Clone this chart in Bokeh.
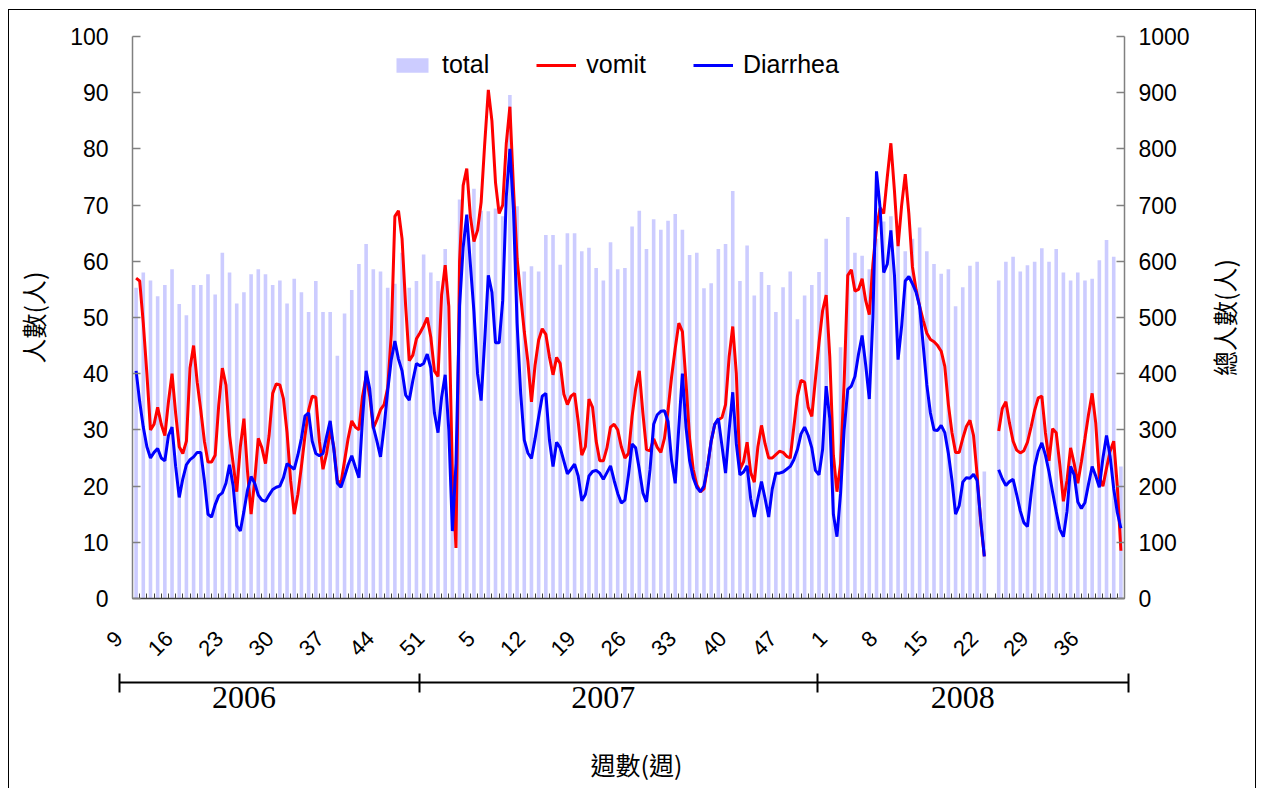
import math
from bokeh.plotting import figure
from bokeh.models import Range1d, LinearAxis, FixedTicker, Legend
from bokeh.embed import file_html
from bokeh.resources import INLINE

nan = float("nan")

# ---------------- data ----------------
weeks_2006 = list(range(9, 54))
weeks_2007 = list(range(1, 54))
weeks_2008 = list(range(1, 41))
week_labels = [str(w) for w in weeks_2006 + weeks_2007 + weeks_2008]
years = ["2006", "2007", "2008"]

# weekly total (right axis)
total = [553, 580, 566, 538, 558, 586, 524, 504, 558, 558, 577, 541, 615, 580, 525, 545, 577, 586, 577, 558, 566, 525, 569,
         545, 510, 565, 510, 510, 432, 507, 549, 595, 631, 586, 582, 553, 560, 615, 553, 565, 612, 580, 565, 622, 220, 710,
         660, 729, 690, 689, 694, 680, 896, 698, 582, 591, 582, 647, 647, 594, 650, 650, 618, 624, 588, 566, 634, 586, 588,
         662, 690, 622, 675, 656, 672, 684, 656, 611, 615, 552, 561, 622, 631, 725, 565, 628, 539, 581, 558, 510, 554, 582,
         497, 539, 558, 581, 640, 250, 447, 679, 615, 610, 586, 640, 671, 680, 660, 618, 640, 660, 618, 595, 578, 586, 520,
         554, 592, 599, 226, nan, 566, 599, 608, 582, 593, 599, 623, 599, 622, 580, 566, 580, 566, 569, 602, 638, 608, 235]

# vomit, sampled every half week (left axis)
vomit = [57, 56.5, 49, 40, 30, 31, 34, 31, 29, 35,
         40, 33, 27, 25.8, 28, 41, 45, 38.5, 33.5, 28,
         24.3, 24.3, 25.5, 34.5, 41, 38, 29, 24, 19, 27,
         32, 22.6, 15, 21, 28.5, 26.8, 24, 29, 36.5, 38.2,
         38, 35.5, 29.5, 21, 15,
         18.5, 23.5, 29, 33.5, 36, 35.8, 28, 23, 25.8, 30,
         27, 21, 20.5, 24.5, 28.5, 31.6, 30.5, 30, 36, 39.5,
         36, 30.3, 31.8, 33.6, 34.5, 37.5, 47, 68, 69, 64,
         52, 42.3, 43.3, 46.2, 47.3, 48.5, 50, 46.5, 40.5, 39.5,
         54, 59.3, 52, 22, 9, 60,
         73.5, 76.5, 68, 63.5, 65.5, 70.5, 81, 90.5, 85, 74,
         68.5, 70, 81, 87.5, 73, 60.5, 53.8, 47.5, 42.2, 35,
         41.5, 46, 48, 47, 43, 39.8, 42.9, 41.8, 36.4, 34.5,
         36, 36.5, 31.5, 25.5, 27, 35.5, 34, 28, 24.5, 24.5,
         26.8, 30.5, 31, 30, 27, 25,
         25.8, 32.4, 37.3, 40.5, 33, 26.5, 26.3, 28.4, 26.9, 26,
         28.5, 33.5, 39.5, 44.5, 49, 47.5, 38.5, 28.5, 23, 20.2,
         19, 19.5, 23.5, 28, 31, 31.8, 32.2, 34.5, 43, 48.4,
         40, 23, 24.3, 27.8, 22.4, 20.7, 27, 30.8, 27.5, 25,
         25, 25.6, 26.2, 26, 25.3, 25,
         30.5, 36, 38.8, 38.5, 34, 32.4, 39, 45.5, 51.2, 54,
         43, 25.5, 19, 24, 38.5, 57.5, 58.5, 54.7, 55, 56.9,
         53, 50.5, 59.5, 66, 69.5, 68.5, 75, 81, 72.5, 62.7,
         70, 75.5, 68.5, 59, 55, 52, 49.5, 47.2, 46.1, 45.7,
         45, 44, 41.3, 34.5, 29.5, 26,
         26, 28.5, 30.6, 31.7, 29, 22, 13.5, 7.5, nan, nan,
         nan, 29.8, 33.8, 35, 31.2, 28, 26.4, 25.9, 26.3, 27.8,
         30.5, 33.5, 35.7, 36, 29.5, 24.5, 30.2, 29.5, 23.8, 17.3,
         21, 26.8, 24, 20.5, 24.3, 28.5, 32.8, 36.5, 31.2, 21.5,
         20, 23.2, 26.2, 28, 20, 8.5]

# diarrhea, sampled every half week (left axis)
diarrhea = [40.5, 35, 30.5, 27, 25, 26, 26.7, 25, 24.5, 29,
            30.5, 23.5, 18, 21.3, 23.8, 24.7, 25.2, 26, 26, 21,
            15, 14.5, 16.7, 18.3, 18.8, 20.5, 23.8, 20, 13, 12,
            15.5, 19.3, 21.7, 20.5, 18.4, 17.5, 17.3, 18.4, 19.4, 19.8,
            20, 21.5, 24, 23.5, 23,
            25.5, 28.5, 32.5, 33, 28, 25.8, 25.4, 25.8, 28.8, 31.6,
            26.6, 20.5, 19.8, 21.7, 23.8, 25.4, 23.4, 21.5, 32, 40.5,
            37.3, 30.5, 28, 25.2, 30.5, 37, 42.5, 45.8, 42.6, 40.5,
            36.2, 35.3, 38.8, 41.8, 41.4, 41.8, 43.5, 41, 33, 29.5,
            35.8, 39.8, 30, 12, 24, 52,
            62.5, 68.3, 59.5, 51, 40, 35.2, 46, 57.5, 54.5, 45.5,
            45.5, 53, 71.5, 80, 69, 49, 36.5, 28.2, 25.9, 24.9,
            28.4, 32.3, 36, 36.5, 28.2, 23.5, 27.8, 26.8, 24.5, 22.2,
            23, 23.9, 21.8, 17.4, 18.5, 21.8, 22.6, 22.8, 22.3, 21.2,
            22.4, 23.6, 21, 18.7, 17, 17.5,
            22, 27.5, 26.8, 23, 18.8, 17.2, 23, 31, 32.7, 33.3,
            33.4, 31.5, 24.5, 20.5, 30.5, 40, 30.5, 24.5, 21.5, 19.8,
            19, 20, 23.5, 28, 31, 32, 27.2, 22.3, 30, 36.7,
            27.5, 22, 22.5, 23.6, 17.7, 14.5, 17.8, 20.8, 17.8, 14.5,
            19.5, 22.3, 22.3, 22.5, 23, 23.5,
            24.7, 26.5, 29.3, 30.5, 29, 26.8, 22.8, 22, 26.5, 37.8,
            32, 15, 11, 18.7, 30, 37.2, 37.8, 39.5, 43.5, 46.8,
            41.5, 35.5, 50, 76, 69.5, 58, 59.5, 65.5, 57.5, 42.5,
            48.5, 56.5, 57.3, 56, 54.5, 52, 45, 38, 33, 30,
            29.9, 30.8, 29.5, 25.8, 21, 15,
            16.5, 20.7, 21.5, 21.4, 22.1, 21, 14, 7.5, nan, nan,
            nan, 22.9, 21.3, 20.1, 20.8, 21.2, 18.5, 15.6, 13.5, 12.8,
            18.5, 23.5, 26.2, 27.7, 25.5, 22.5, 18.9, 15.5, 12.3, 11,
            15.5, 23.5, 22, 17.2, 16, 17.1, 20.4, 23.5, 21.8, 19.8,
            25, 29, 25.3, 19.5, 15.3, 12.5]

# ---------------- layout constants (page pixels) ----------------
N = len(total)
W = 1264
TOP_Y = 9                      # top of main figure (= outer frame line)
TOP_H = 664
BOT_H = 788 - TOP_Y - TOP_H
FRAME_L, FRAME_R = 132, W - 1124
FRAME_T, FRAME_H = 36 - TOP_Y, 562
px_per_cat = (W - FRAME_L - FRAME_R) / N
BR_L, BR_R = 119, W - 1128     # bracket extends a little beyond the plot
br_start = -0.5 - (FRAME_L - BR_L) / px_per_cat
br_end = N - 0.5 + (FRAME_R - BR_R) / px_per_cat
year_edges = [br_start + 0.01, 39.4, 94.8, br_end - 0.01]
year_centers = [15, 65, 115]
label_pad = "\u00a0" * 4       # week labels sit a little left/below their week (as drawn)
right_title_anchor = 39.6      # lower end of the right title, in left-axis units
x_title_mid = 69.6             # centre of the x title, in week units

LAT = "Liberation Sans"
CJK = "Noto Sans CJK TC"

VLINES = ("linear-gradient(to right, transparent 8px, black 8px, black 9px, transparent 9px), "
          "linear-gradient(to right, transparent 1255px, black 1255px, black 1256px, transparent 1256px)")

# ---------------- main figure ----------------
p = figure(width=W, height=TOP_H, x_range=Range1d(-0.5, N - 0.5), y_range=Range1d(0, 100),
           output_backend="svg", toolbar_location=None,
           x_axis_location=None, y_axis_location=None,
           min_border_left=FRAME_L, min_border_right=FRAME_R, min_border_top=FRAME_T,
           min_border_bottom=TOP_H - FRAME_T - FRAME_H,
           margin=(TOP_Y, 0, 0, 0),
           styles={"background-image": "linear-gradient(to bottom, black 0px, black 1px, transparent 1px), " + VLINES,
                   "background-size": "1248px 100%, 100% 100%, 100% 100%",
                   "background-position": "8px 0px, 0px 0px, 0px 0px",
                   "background-repeat": "no-repeat"})
p.outline_line_color = None
p.grid.visible = False
p.background_fill_color = "white"
p.border_fill_color = None
p.extra_y_ranges = {"tot": Range1d(0, 1000)}

idx = list(range(N))
half = [k * 0.5 for k in range(len(vomit))]

r_bar = p.vbar(x=idx, top=total, width=0.5, y_range_name="tot", fill_color="#CCCCFF", line_color=None)
r_v = p.line(x=half, y=vomit, line_color="#FF0000", line_width=3)
r_d = p.line(x=half, y=diarrhea, line_color="#0000FF", line_width=3)

def style_y(ax):
    ax.axis_line_color = "#808080"
    ax.axis_line_width = 1.5
    ax.major_tick_line_color = "#808080"
    ax.major_tick_line_width = 1.5
    ax.major_tick_in = 8
    ax.major_tick_out = 0
    ax.minor_tick_line_color = None
    ax.major_label_text_font = LAT
    ax.major_label_text_font_size = "23px"
    ax.major_label_text_color = "black"
    ax.axis_label_text_font = CJK
    ax.axis_label_text_font_size = "25px"
    ax.axis_label_text_font_style = "normal"
    ax.axis_label_text_color = "black"

yl = LinearAxis(ticker=FixedTicker(ticks=list(range(0, 101, 10))), axis_label="人數(人)")
style_y(yl)
yl.major_label_standoff = 24
yl.axis_label_standoff = 16
p.add_layout(yl, "left")

yr = LinearAxis(y_range_name="tot", ticker=FixedTicker(ticks=list(range(0, 1001, 100))))
style_y(yr)
yr.major_label_standoff = 14
p.add_layout(yr, "right")

# right title: a bare axis whose single label reads bottom-to-top
yt = LinearAxis(ticker=FixedTicker(ticks=[right_title_anchor]),
                major_label_overrides={right_title_anchor: "總人數(人)"})
yt.axis_line_color = None
yt.major_tick_line_color = None
yt.minor_tick_line_color = None
yt.major_tick_in = 0
yt.major_tick_out = 0
yt.major_label_orientation = math.pi / 2
yt.major_label_standoff = 32
yt.major_label_text_font = CJK
yt.major_label_text_font_size = "25px"
yt.major_label_text_color = "black"
p.add_layout(yt, "right")

# category axis: a tick at every week boundary, labels every 7 weeks
label_pos = list(range(0, N, 7))
xa = LinearAxis(ticker=FixedTicker(ticks=label_pos, minor_ticks=[i - 0.5 for i in range(N + 1)]),
                major_label_overrides={i: week_labels[i] + label_pad for i in label_pos})
xa.axis_line_color = "#404040"
xa.axis_line_width = 1.5
xa.major_tick_line_color = None
xa.major_tick_in = 0
xa.major_tick_out = 0
xa.minor_tick_line_color = "#404040"
xa.minor_tick_in = 5
xa.minor_tick_out = 0
xa.major_label_orientation = math.pi / 4
xa.major_label_standoff = 19
xa.major_label_text_font = LAT
xa.major_label_text_font_size = "22px"
xa.major_label_text_color = "black"
p.add_layout(xa, "below")

legend = Legend(items=[("total", [r_bar]), ("vomit", [r_v]), ("Diarrhea", [r_d])],
                orientation="horizontal", location=(260, 519),
                label_text_font=LAT, label_text_font_size="25px", label_text_color="black",
                glyph_width=40, glyph_height=18, label_standoff=10, spacing=47,
                padding=0, margin=0, border_line_color=None, background_fill_alpha=0)
p.add_layout(legend)

# ---------------- bracket / year panel ----------------
p2 = figure(width=W, height=BOT_H, x_range=Range1d(br_start, br_end), y_range=Range1d(0, 1),
            output_backend="svg", toolbar_location=None,
            x_axis_location=None, y_axis_location=None,
            min_border_left=BR_L, min_border_right=BR_R, min_border_top=0, min_border_bottom=BOT_H - 9,
            margin=(0, 0, 0, 0),
            styles={"background-image": VLINES, "background-repeat": "no-repeat"})
p2.outline_line_color = None
p2.grid.visible = False
p2.background_fill_color = None
p2.border_fill_color = None

xb = LinearAxis(ticker=FixedTicker(ticks=year_centers, minor_ticks=year_edges),
                major_label_overrides={c: y for c, y in zip(year_centers, years)})
xb.axis_line_color = "black"
xb.axis_line_width = 2
xb.major_tick_line_color = None
xb.major_tick_in = 0
xb.major_tick_out = 0
xb.minor_tick_line_color = "black"
xb.minor_tick_line_width = 2
xb.minor_tick_in = 9
xb.minor_tick_out = 10
xb.major_label_standoff = -6
xb.major_label_text_font = "Liberation Serif"
xb.major_label_text_font_size = "32px"
xb.major_label_text_color = "black"
p2.add_layout(xb, "below")

xt = LinearAxis(ticker=FixedTicker(ticks=[x_title_mid]),
                major_label_overrides={x_title_mid: "週數(週)"})
xt.axis_line_color = None
xt.major_tick_line_color = None
xt.minor_tick_line_color = None
xt.major_tick_in = 0
xt.major_tick_out = 0
xt.major_label_standoff = 35
xt.major_label_text_font = CJK
xt.major_label_text_font_size = "25px"
xt.major_label_text_color = "black"
p2.add_layout(xt, "below")

open("out.html", "w").write(file_html([p, p2], INLINE))
